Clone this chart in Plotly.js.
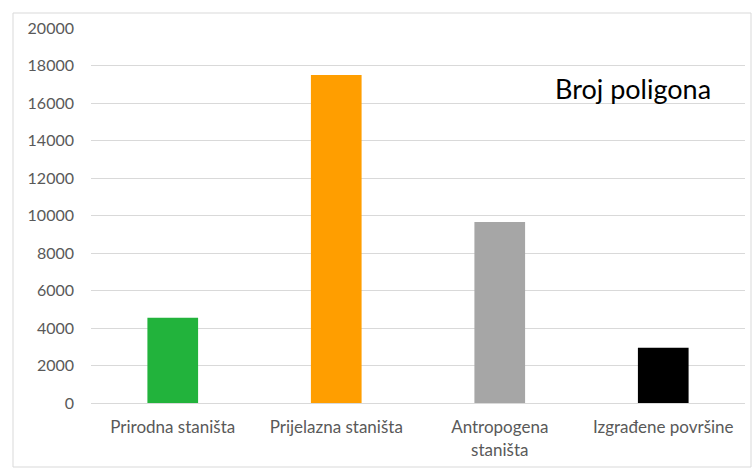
<!DOCTYPE html>
<html>
<head>
<meta charset="utf-8">
<script src="https://cdn.plot.ly/plotly-3.0.1.min.js"></script>
<style>html,body{margin:0;padding:0;background:#fff}#chart{width:756px;height:472px}</style>
</head>
<body>
<div id="chart"></div>
<script>
const categories = ["Prirodna staništa", "Prijelazna staništa", "Antropogena<br>staništa", "Izgrađene površine"];
const values = [4550, 17500, 9650, 2950];
const colors = ["#22b33c", "#ff9e00", "#a6a6a6", "#000000"];
const tickVals = [0, 2000, 4000, 6000, 8000, 10000, 12000, 14000, 16000, 18000, 20000];
const tickText = ["0", "2000", "4000", "6000", "8000", "10000", "12000", "14000", "16000", "18000", "20000"];

const font = "Lato, 'Open Sans', sans-serif";
Plotly.newPlot("chart", [{
  type: "bar",
  x: categories,
  y: values,
  marker: {color: colors, line: {width: 0}},
  hoverinfo: "x+y"
}], {
  width: 756, height: 472,
  margin: {l: 91, r: 11, t: 28, b: 69},
  paper_bgcolor: "#fff", plot_bgcolor: "#fff",
  bargap: 0.69,
  showlegend: false,
  font: {family: font, color: "#595959", size: 16},
  xaxis: {showgrid: false, showline: true, linecolor: "#d9d9d9", linewidth: 1, ticks: "", ticklabelstandoff: 9, tickfont: {size: 17, color: "#595959"}, fixedrange: true},
  yaxis: {range: [0, 20000], tickvals: tickVals, ticktext: tickText, showgrid: true, gridcolor: "#d9d9d9", gridwidth: 1, zeroline: false, showline: false, ticks: "", ticklabelstandoff: 16, tickfont: {size: 16, color: "#595959"}, fixedrange: true},
  annotations: [{
    text: "Broj poligona", xref: "paper", yref: "paper", x: 0.8295, y: 0.84, xanchor: "center", yanchor: "middle",
    showarrow: false, font: {size: 27, color: "#000", family: font}
  }],
  shapes: [{
    type: "rect", xref: "paper", yref: "paper",
    x0: (13 - 91) / 654, x1: (751 - 91) / 654,
    y0: (403 - 467) / 375, y1: (403 - 13) / 375,
    line: {color: "#d9d9d9", width: 1}, fillcolor: "rgba(0,0,0,0)", layer: "below"
  }]
}, {displayModeBar: false, staticPlot: true});
</script>
</body>
</html>
